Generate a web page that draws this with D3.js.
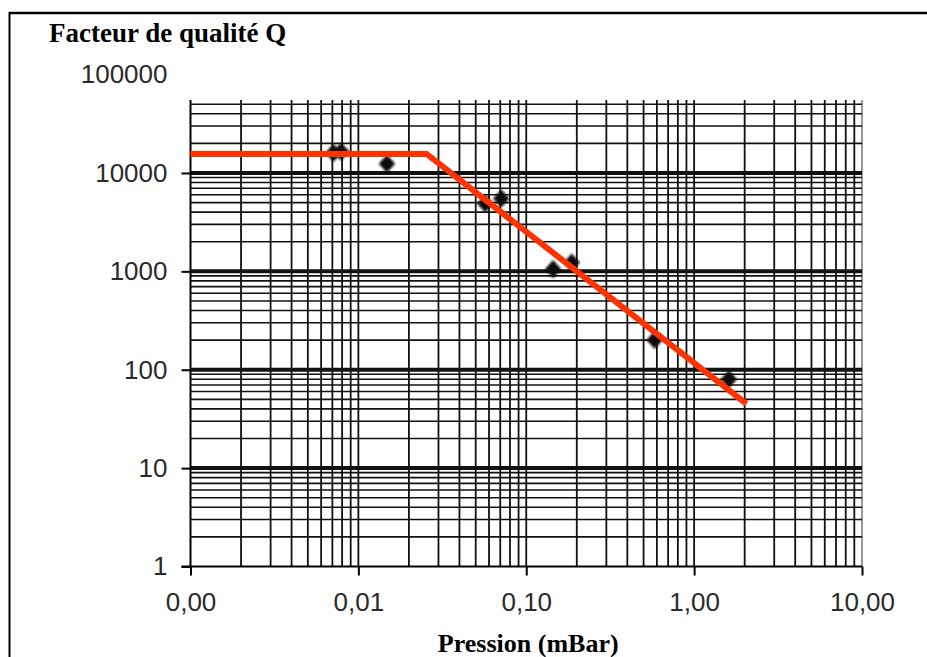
<!DOCTYPE html>
<html>
<head>
<meta charset="utf-8">
<script src="https://cdn.jsdelivr.net/npm/d3@7/dist/d3.min.js"></script>
<style>
html,body{margin:0;padding:0;background:#fff;}
svg{display:block;}
</style>
</head>
<body>
<svg id="chart" width="927" height="657"></svg>
<script>
// ---- data ----
const xTickValues = [0.001, 0.01, 0.1, 1, 10];
const xTickLabels = ["0,00", "0,01", "0,10", "1,00", "10,00"];
const yTickValues = [1, 10, 100, 1000, 10000, 100000];
const yTickLabels = ["1", "10", "100", "1000", "10000", "100000"];
const pressure = [0.0071, 0.0079, 0.0148, 0.057, 0.071, 0.1445, 0.1866, 0.582, 1.611];
const quality  = [16000, 16500, 12400, 4900, 5500, 1052, 1228, 201, 80];
const fitPressure = [0.001, 0.0255, 2.05];
const fitQuality  = [15600, 15600, 45];
const titleText = "Facteur de qualité Q";
const xTitleText = "Pression (mBar)";

(function () {
// ---- layout ----
const svg = d3.select("#chart");
const pLeft = 190.5, pRight = 862, pBottom = 566.5, pTop = 74.6, gridTop = 100;
const x = d3.scaleLog().domain([0.001, 10]).range([pLeft, pRight]);
const y = d3.scaleLog().domain([1, 100000]).range([pBottom, pTop]);

// frame
svg.append("line").attr("x1", 9).attr("x2", 927).attr("y1", 13).attr("y2", 13)
  .attr("stroke", "#000").attr("stroke-width", 2.5);
svg.append("line").attr("x1", 9.5).attr("x2", 9.5).attr("y1", 12).attr("y2", 657)
  .attr("stroke", "#000").attr("stroke-width", 2);

// grid values
const minorVals = [];
for (let e = -3; e <= 4; e++) for (let m = 1; m <= 9; m++) minorVals.push(m * Math.pow(10, e));
const xGrid = minorVals.filter(v => v >= 0.001 * 1.0001 && v <= 10 * 0.9999);
const yGrid = minorVals.filter(v => v > 1 && y(v) >= gridTop);

const g = svg.append("g");
// vertical grid
g.selectAll("line.vg").data(xGrid).join("line")
  .attr("x1", d => x(d)).attr("x2", d => x(d))
  .attr("y1", gridTop).attr("y2", pBottom)
  .attr("stroke", "#111").attr("stroke-width", 1.8);
// right edge
g.append("line").attr("x1", pRight).attr("x2", pRight).attr("y1", gridTop).attr("y2", pBottom)
  .attr("stroke", "#999").attr("stroke-width", 2);
// horizontal grid
g.selectAll("line.hg").data(yGrid).join("line")
  .attr("x1", pLeft).attr("x2", pRight)
  .attr("y1", d => y(d)).attr("y2", d => y(d))
  .attr("stroke", "#111")
  .attr("stroke-width", d => yTickValues.includes(d) ? 4 : 1.6);

// axes lines
g.append("line").attr("x1", pLeft).attr("x2", pLeft).attr("y1", gridTop).attr("y2", pBottom)
  .attr("stroke", "#000").attr("stroke-width", 2);
g.append("line").attr("x1", pLeft - 9).attr("x2", pRight).attr("y1", pBottom).attr("y2", pBottom)
  .attr("stroke", "#000").attr("stroke-width", 2);

// axes (ticks + labels)
const yAxis = d3.axisLeft(y).tickValues(yTickValues.slice(0, 5))
  .tickFormat((d) => yTickLabels[yTickValues.indexOf(d)]).tickSize(9).tickPadding(14);
const ya = svg.append("g").attr("transform", `translate(${pLeft},0)`).call(yAxis);
ya.select(".domain").remove();
ya.selectAll(".tick line").attr("stroke", "#000").attr("stroke-width", 2);
ya.selectAll("text").attr("font-family", "'Liberation Sans', Arial, sans-serif")
  .attr("font-size", 26).attr("fill", "#2a2a2a");
// top label (no grid line there)
svg.append("text").attr("x", pLeft - 23).attr("y", y(100000)).attr("dy", "0.32em")
  .attr("text-anchor", "end")
  .attr("font-family", "'Liberation Sans', Arial, sans-serif").attr("font-size", 26)
  .attr("fill", "#2a2a2a").text(yTickLabels[5]);

const xAxis = d3.axisBottom(x).tickValues(xTickValues)
  .tickFormat((d, i) => xTickLabels[i]).tickSize(9).tickPadding(17);
const xa = svg.append("g").attr("transform", `translate(0,${pBottom})`).call(xAxis);
xa.select(".domain").remove();
xa.selectAll(".tick line").attr("stroke", "#000").attr("stroke-width", 2);
xa.selectAll("text").attr("font-family", "'Liberation Sans', Arial, sans-serif")
  .attr("font-size", 26).attr("fill", "#2a2a2a");

// blur filter for the markers
const defs = svg.append("defs");
defs.append("filter").attr("id", "soft").append("feGaussianBlur").attr("stdDeviation", 1);

// rhombus symbol type (wider than d3's default diamond)
const rhombus = {
  draw(ctx, size) {
    const h = Math.sqrt(size / 2 * 1.1), w = h / 1.1;
    ctx.moveTo(0, -h); ctx.lineTo(w, 0); ctx.lineTo(0, h); ctx.lineTo(-w, 0); ctx.closePath();
  }
};

// data points
const pts = pressure.map((p, i) => ({p, q: quality[i]}));
svg.append("g").selectAll("path").data(pts).join("path")
  .attr("transform", d => `translate(${x(d.p)},${y(d.q)})`)
  .attr("d", d3.symbol().type(rhombus).size(150))
  .attr("fill", "#111").attr("filter", "url(#soft)");

// fit line
const fit = fitPressure.map((p, i) => [p, fitQuality[i]]);
svg.append("path").datum(fit)
  .attr("d", d3.line().x(d => x(d[0])).y(d => y(d[1])))
  .attr("fill", "none").attr("stroke", "#ff3300").attr("stroke-width", 6)
  .attr("stroke-linejoin", "miter");

// titles
svg.append("text").attr("x", 49).attr("y", 41.5)
  .attr("font-family", "'Liberation Serif', 'Times New Roman', serif")
  .attr("font-weight", "bold").attr("font-size", 27).attr("fill", "#000").text(titleText);
svg.append("text").attr("x", (pLeft + pRight) / 2 + 2).attr("y", 652)
  .attr("text-anchor", "middle")
  .attr("font-family", "'Liberation Serif', 'Times New Roman', serif")
  .attr("font-weight", "bold").attr("font-size", 26).attr("fill", "#000").text(xTitleText);
})();
</script>
</body>
</html>
